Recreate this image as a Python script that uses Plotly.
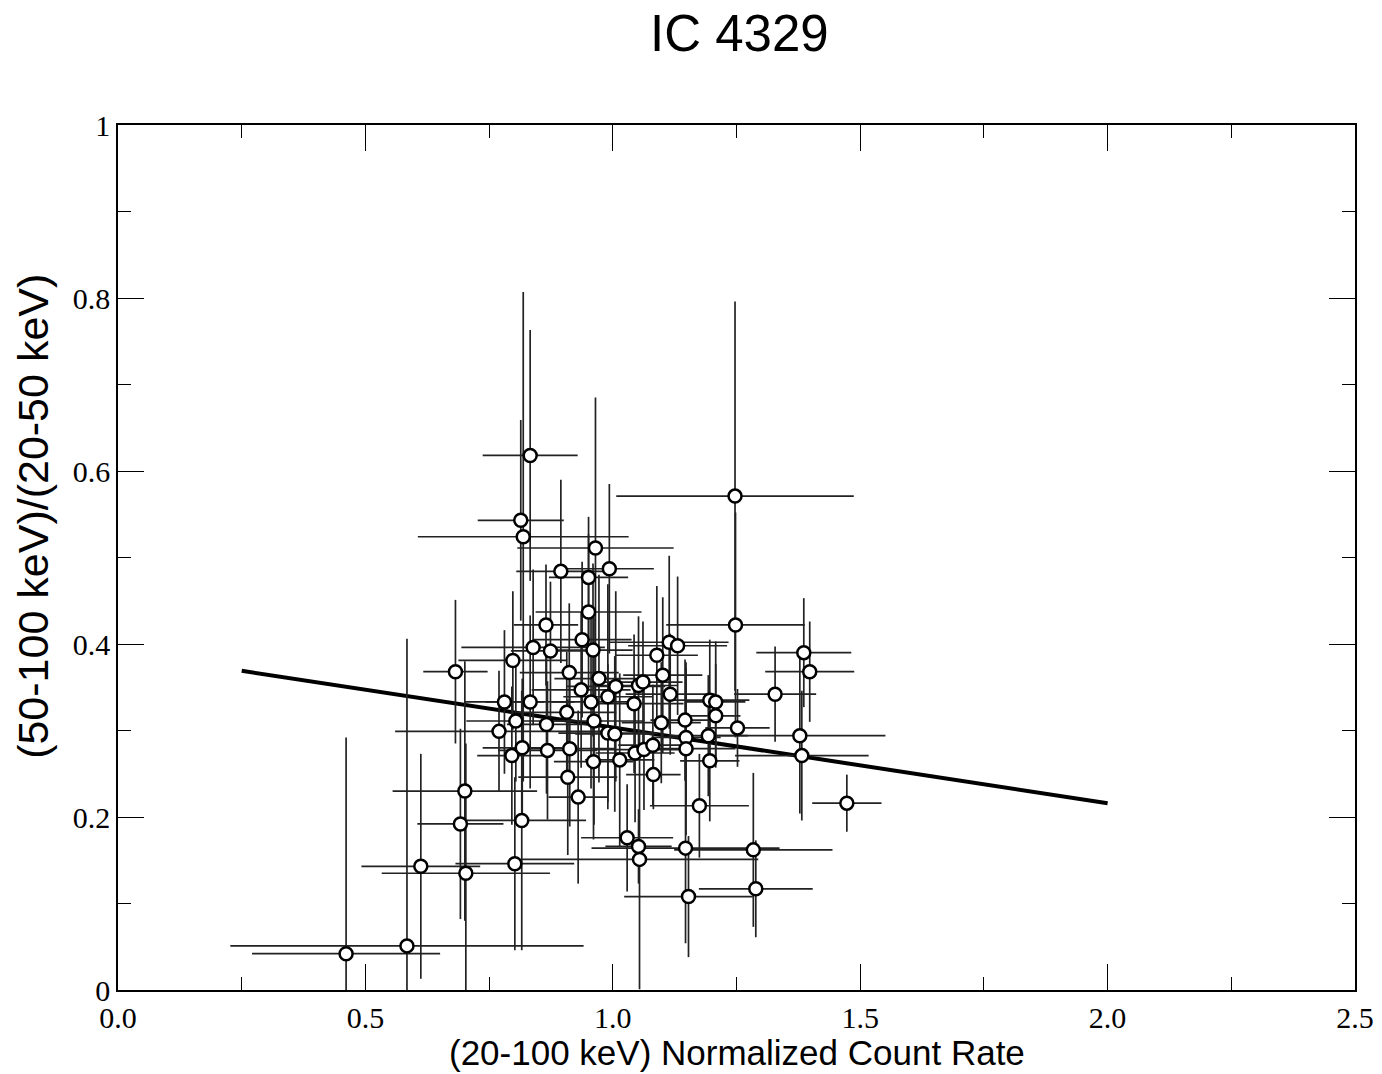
import plotly.graph_objects as go

# Data
rate = [0.461, 0.584, 0.612, 0.703, 0.682, 0.701, 0.692, 0.802, 0.816, 0.833,
        0.814, 0.819, 0.965, 1.247, 0.895, 0.993, 0.951, 0.951, 0.865, 1.248,
        0.938, 1.114, 1.131, 0.839, 0.874, 0.960, 1.089, 0.798, 0.912, 1.101,
        0.972, 1.006, 1.052, 1.061, 0.936, 1.116, 0.990, 0.956, 1.043, 0.781,
        0.833, 1.196, 1.208, 0.907, 0.804, 0.866, 0.962, 1.098, 1.146, 1.208,
        1.252, 0.770, 0.990, 1.004, 1.193, 1.148, 0.796, 0.817, 0.868, 0.913,
        0.961, 1.014, 1.045, 1.063, 1.081, 1.148, 1.196, 0.909, 1.082, 0.930,
        1.175, 1.029, 1.052, 1.054, 1.147, 1.284, 1.153, 1.289, 1.386, 1.398,
        1.328, 1.378, 1.382, 1.473]
ratio = [0.042, 0.051, 0.143, 0.135, 0.368, 0.230, 0.192, 0.146, 0.196, 0.618,
         0.543, 0.524, 0.511, 0.571, 0.484, 0.487, 0.477, 0.437, 0.422, 0.422,
         0.405, 0.402, 0.398, 0.396, 0.392, 0.393, 0.387, 0.381, 0.367, 0.364,
         0.360, 0.351, 0.352, 0.356, 0.347, 0.342, 0.339, 0.333, 0.331, 0.333,
         0.333, 0.335, 0.333, 0.321, 0.311, 0.307, 0.311, 0.309, 0.312, 0.317,
         0.303, 0.299, 0.297, 0.296, 0.294, 0.292, 0.271, 0.280, 0.277, 0.279,
         0.264, 0.266, 0.274, 0.278, 0.283, 0.279, 0.265, 0.246, 0.249, 0.223,
         0.213, 0.176, 0.166, 0.151, 0.164, 0.162, 0.108, 0.117, 0.390, 0.368,
         0.342, 0.294, 0.271, 0.216]
rate_err = [0.19, 0.357, 0.12, 0.17, 0.065, 0.146, 0.087, 0.12, 0.13, 0.096,
            0.087, 0.213, 0.158, 0.24, 0.09, 0.09, 0.08, 0.107, 0.065, 0.14,
            0.10, 0.12, 0.10, 0.145, 0.08, 0.08, 0.083, 0.11, 0.10, 0.08,
            0.09, 0.10, 0.08, 0.08, 0.10, 0.09, 0.09, 0.08, 0.10, 0.08,
            0.09, 0.08, 0.06, 0.10, 0.10, 0.08, 0.10, 0.08, 0.07, 0.05,
            0.065, 0.21, 0.10, 0.08, 0.08, 0.07, 0.07, 0.08, 0.10, 0.09,
            0.08, 0.07, 0.08, 0.10, 0.07, 0.10, 0.06, 0.10, 0.055, 0.06,
            0.10, 0.093, 0.067, 0.24, 0.19, 0.16, 0.13, 0.115, 0.096, 0.09,
            0.083, 0.173, 0.135, 0.07]
ratio_err = [0.25, 0.355, 0.13, 0.15, 0.083, 0.15, 0.11, 0.10, 0.15, 0.145,
             0.116, 0.283, 0.174, 0.225, 0.106, 0.098, 0.07, 0.09, 0.07, 0.13,
             0.09, 0.10, 0.08, 0.09, 0.08, 0.10, 0.08, 0.08, 0.08, 0.09,
             0.12, 0.11, 0.08, 0.07, 0.09, 0.07, 0.13, 0.10, 0.08, 0.083,
             0.10, 0.07, 0.07, 0.07, 0.07, 0.08, 0.12, 0.07, 0.07, 0.06,
             0.045, 0.07, 0.08, 0.09, 0.07, 0.08, 0.08, 0.08, 0.08, 0.09,
             0.09, 0.10, 0.08, 0.07, 0.07, 0.10, 0.07, 0.09, 0.04, 0.10,
             0.06, 0.062, 0.043, 0.15, 0.11, 0.089, 0.07, 0.056, 0.063, 0.058,
             0.055, 0.09, 0.075, 0.033]

fit_x = [0.25, 2.0]
fit_y = [0.369, 0.216]

x_tickvals = [0.0, 0.5, 1.0, 1.5, 2.0, 2.5]
x_ticktext = ["0.0", "0.5", "1.0", "1.5", "2.0", "2.5"]
y_tickvals = [0, 0.2, 0.4, 0.6, 0.8, 1.0]
y_ticktext = ["0", "0.2", "0.4", "0.6", "0.8", "1"]

fig = go.Figure()

fig.add_trace(go.Scatter(
    x=fit_x, y=fit_y, mode="lines",
    line=dict(color="black", width=4),
    showlegend=False,
))

fig.add_trace(go.Scatter(
    x=rate, y=ratio, mode="markers",
    marker=dict(symbol="circle", size=13, color="white",
                line=dict(color="black", width=2.5)),
    error_x=dict(type="data", array=rate_err, visible=True,
                 color="#222222", thickness=1.7, width=0),
    error_y=dict(type="data", array=ratio_err, visible=True,
                 color="#222222", thickness=1.7, width=0),
    showlegend=False,
))

axis_common = dict(
    showline=True, linecolor="black", linewidth=1.5, mirror="allticks",
    ticks="inside", ticklen=26, tickwidth=1.2, tickcolor="black",
    showgrid=False, zeroline=False, automargin=False,
    tickfont=dict(family="Liberation Serif, Times New Roman, serif", size=30, color="black"),
)

fig.update_xaxes(
    range=[0, 2.5], tickvals=x_tickvals, ticktext=x_ticktext,
    minor=dict(dtick=0.25, ticks="inside", ticklen=13, tickwidth=1.2, tickcolor="black"),
    **axis_common,
)
fig.update_yaxes(
    range=[0, 1], tickvals=y_tickvals, ticktext=y_ticktext,
    minor=dict(dtick=0.1, ticks="inside", ticklen=13, tickwidth=1.2, tickcolor="black"),
    **axis_common,
)

sans = "Liberation Sans, Arial, sans-serif"
fig.add_annotation(
    text="(20-100 keV) Normalized Count Rate", xref="paper", yref="paper",
    x=0.5, y=-0.0728, xanchor="center", yanchor="middle", showarrow=False,
    font=dict(family=sans, size=35, color="black"),
)
fig.add_annotation(
    text="(50-100 keV)/(20-50 keV)", xref="paper", yref="paper",
    x=-0.0687, y=0.547, xanchor="center", yanchor="middle", showarrow=False,
    textangle=-90, font=dict(family=sans, size=43, color="black"),
)

fig.update_layout(
    width=1382, height=1074,
    margin=dict(l=118, r=27, t=125, b=84),
    paper_bgcolor="white", plot_bgcolor="white",
    title=dict(text="IC 4329", x=0.535, xanchor="center", y=0.969, yanchor="middle",
               automargin=False,
               font=dict(family=sans, size=51, color="black")),
)

fig.write_html("out.html", config={"displayModeBar": False},
               post_script="document.body.style.margin='0px';")
